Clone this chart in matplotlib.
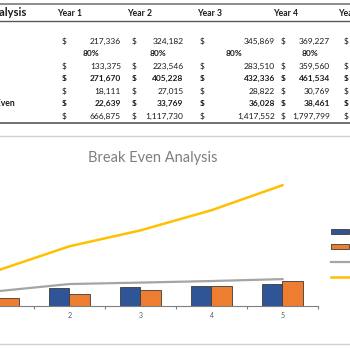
import matplotlib
matplotlib.use('Agg')
import matplotlib.pyplot as plt
from matplotlib.patches import Rectangle
from matplotlib.lines import Line2D

# table values (years 1-4 visible)
years = [1, 2, 3, 4, 5]
revenue = [217336, 324182, 345869, 369227, 398000]
margin_pct = ['80%', '80%', '80%', '80%']
variable_costs = [133375, 223546, 283510, 359560, 462000]
fixed_costs = [271670, 405228, 432336, 461534, 498000]
row5 = [18111, 27015, 28822, 30769]
break_even = [22639, 33769, 36028, 38461]
break_even_sales = [666875, 1117730, 1417552, 1797799, 2270000]

W = H = 350.0
fig = plt.figure(figsize=(3.5, 3.5), dpi=100)
plt.rcParams['font.family'] = ['Lato', 'DejaVu Sans']


def fx(px):
    return px / W


def fy(py):
    return 1 - py / H


# ---- table ----
hdr_x = [57, 127, 197, 273, 338]
dollar_x = [61.5, 131.5, 199.5, 280.5, 344]
num_right = [121, 183.5, 275, 330]
pct_left = [83, 150, 226, 302]
row_y = [41, 66, 78.5, 91, 103.5, 116]
rows = [revenue, variable_costs, fixed_costs, row5, break_even, break_even_sales]
bold_rows = [False, False, True, False, True, False]
txt = '#1a1a1a'
fs = 6.0

fig.add_artist(Line2D([0, 1], [fy(4), fy(4)], color='#8c8c8c', lw=1.4))
fig.add_artist(Line2D([0, 1], [fy(21), fy(21)], color='#595959', lw=1.0))
fig.add_artist(Line2D([0, 1], [fy(123), fy(123)], color='#595959', lw=1.2))

fig.text(fx(26), fy(13), 'Break Even Analysis', ha='right', va='center',
         fontsize=8, fontweight='bold', color=txt)
for i, x in enumerate(hdr_x):
    fig.text(fx(x), fy(13.5), f'Year {years[i]}', ha='left', va='center',
             fontsize=6.2, fontweight='bold', color=txt)

for r, (vals, yy, b) in enumerate(zip(rows, row_y, bold_rows)):
    w = 'bold' if b else 'normal'
    for c in range(5):
        fig.text(fx(dollar_x[c]), fy(yy), '$', ha='left', va='center',
                 fontsize=fs, fontweight=w, color=txt)
    for c in range(4):
        fig.text(fx(num_right[c]), fy(yy), f'{vals[c]:,}', ha='right', va='center',
                 fontsize=fs, fontweight=w, color=txt)
for c in range(4):
    fig.text(fx(pct_left[c]), fy(53.5), margin_pct[c], ha='left', va='center',
             fontsize=fs, fontweight='bold', color=txt)
fig.text(fx(15), fy(104), 'Break Even', ha='right', va='center',
         fontsize=6.2, fontweight='bold', color=txt)

# ---- chart ----
fig.add_artist(Rectangle((fx(-5), fy(344)), fx(360), fy(136) - fy(344),
                         fill=False, edgecolor='#d0d0d0', lw=1.0))
fig.text(fx(152.8), fy(158), 'Break Even Analysis', ha='center', va='center',
         fontsize=10.5, fontweight='normal', color='#7f7f7f')

ymax = 2500000
px_per_unit = 18870.0
ax_h = ymax / px_per_unit
ax = fig.add_axes([fx(-37), fy(305.5), 355 / W, ax_h / H])

bw = 0.29
xb = [y - bw / 2 for y in years]
xo = [y + bw / 2 for y in years]
b1 = ax.bar(xb, revenue, bw, color='#2f5597', edgecolor='#3a3a3a', lw=0.6)
b2 = ax.bar(xo, variable_costs, bw, color='#ed7d31', edgecolor='#3a3a3a', lw=0.6)
l1, = ax.plot(years, fixed_costs, color='#a5a5a5', lw=1.6)
l2, = ax.plot(years, break_even_sales, color='#ffc000', lw=1.8)

ax.set_xlim(0.5, 5.5)
ax.set_ylim(0, ymax)
ax.patch.set_alpha(0)
for s in ['top', 'right', 'left']:
    ax.spines[s].set_visible(False)
ax.spines['bottom'].set_color('#7f7f7f')
ax.spines['bottom'].set_linewidth(0.8)
ax.set_yticks([])
ax.set_xticks([2, 3, 4, 5])
ax.set_xticklabels(['2', '3', '4', '5'], fontsize=5, color='#595959')
ax.set_xticks([1.5, 2.5, 3.5, 4.5, 5.5], minor=True)
ax.tick_params(axis='x', which='major', length=0, pad=5)
ax.tick_params(axis='x', which='minor', length=2.5, color='#7f7f7f', width=0.8)

# legend: only the keys are inside the picture
fig.legend([b1, b2, l1, l2], [' '] * 4, loc='upper left',
           bbox_to_anchor=(fx(331), fy(228)), frameon=False,
           fontsize=7, labelspacing=0.62, handlelength=1.85, handleheight=0.5,
           borderpad=0, borderaxespad=0, handletextpad=0.6)

fig.savefig('out.png', dpi=100)
